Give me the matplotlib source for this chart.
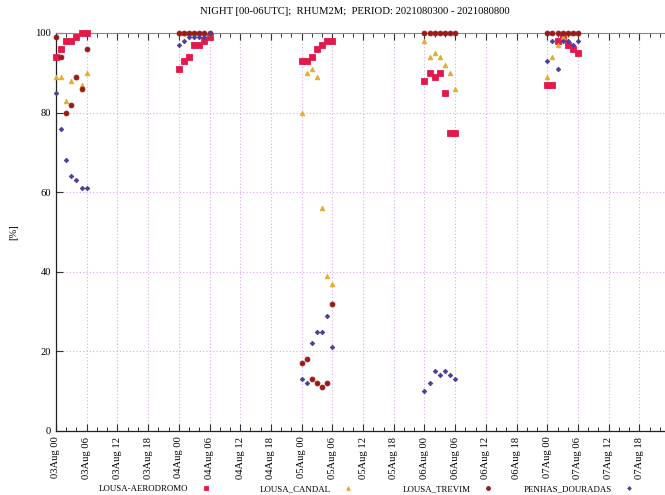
import numpy as np
import pandas as pd
import matplotlib
matplotlib.use('Agg')
import matplotlib.pyplot as plt
import matplotlib.dates as mdates

# nights 03..07 Aug 2021, hourly 00..06 UTC
days = ['2021-08-03', '2021-08-04', '2021-08-05', '2021-08-06', '2021-08-07']
hours = [0, 1, 2, 3, 4, 5, 6]

aerodromo = [94, 96, 98, 98, 99, 100, 100,
             91, 93, 94, 97, 97, 98, 99,
             93, 93, 94, 96, 97, 98, 98,
             88, 90, 89, 90, 85, 75, 75,
             87, 87, 98, 99, 97, 96, 95]
candal = [89, 89, 83, 88, 89, 87, 90,
          100, 100, 100, 100, 100, 100, 100,
          80, 90, 91, 89, 56, 39, 37,
          98, 94, 95, 94, 92, 90, 86,
          89, 94, 97, 99, 100, 100, 100]
trevim = [99, 94, 80, 82, 89, 86, 96,
          100, 100, 100, 100, 100, 100, 100,
          17, 18, 13, 12, 11, 12, 32,
          100, 100, 100, 100, 100, 100, 100,
          100, 100, 100, 100, 100, 100, 100]
penhas = [85, 76, 68, 64, 63, 61, 61,
          97, 98, 99, 99, 99, 99, 100,
          13, 12, 22, 25, 25, 29, 21,
          10, 12, 15, 14, 15, 14, 13,
          93, 98, 91, 98, 98, 97, 98]

names = ['LOUSA-AERODROMO', 'LOUSA_CANDAL', 'LOUSA_TREVIM', 'PENHAS_DOURADAS']

times = pd.to_datetime([f'{d} {h:02d}:00' for d in days for h in hours])

plt.rcParams['font.family'] = ['Liberation Serif', 'DejaVu Serif']
fs = 7.6

fig = plt.figure(figsize=(6.65, 4.95), dpi=100)
ax = fig.add_axes([56/665, 64/495, 609/665, 398/495])

styles = [
    dict(marker='s', color='#e3194b', ms=3.8),
    dict(marker='^', color='#e6aa2e', ms=3.3),
    dict(marker='o', color='#9a1a1a', ms=3.5),
    dict(marker='D', color='#4b3f9e', ms=2.3),
]
series = [aerodromo, candal, trevim, penhas]
handles = []
for vals, st in zip(series, styles):
    h, = ax.plot(times, vals, linestyle='none', marker=st['marker'],
                 color=st['color'], ms=st['ms'], mec=st['color'], mew=0.6,
                 clip_on=False, zorder=3)
    handles.append(h)

x0 = pd.Timestamp('2021-08-03 00:00')
ax.set_xlim(x0, x0 + pd.Timedelta(hours=119))
ax.set_ylim(0, 100)
ax.set_yticks(np.arange(0, 101, 20))

ax.xaxis.set_major_locator(mdates.HourLocator(byhour=[0, 6, 12, 18]))
ax.xaxis.set_minor_locator(mdates.HourLocator(byhour=range(0, 24, 2)))
ax.xaxis.set_major_formatter(mdates.DateFormatter('%d%b %H'))
plt.setp(ax.get_xticklabels(), rotation=90, ha='center', va='top')

ax.tick_params(axis='both', which='both', direction='in', top=True,
               labelsize=fs, color='#333333')
ax.tick_params(which='major', length=5, width=0.8)
ax.tick_params(which='minor', length=3, width=0.7)
ax.tick_params(axis='x', pad=4)

ax.grid(True, which='major', linestyle=(0, (1, 2)), color='#dca8ee', lw=0.8)
ax.spines['right'].set_visible(False)
ax.spines['top'].set_color('#888888')
for s in ['left', 'bottom']:
    ax.spines[s].set_color('#222222')
    ax.spines[s].set_linewidth(0.9)

ax.set_ylabel('[%]', fontsize=fs, labelpad=12)
fig.text(355/665, 1 - 11/495,
         'NIGHT [00-06UTC];  RHUM2M;  PERIOD: 2021080300 - 2021080800',
         ha='center', va='center', fontsize=7.7)

# gnuplot-like key: label followed by sample, spread across the bottom
marker_x = [205, 347, 487, 628]
for h, name, mx in zip(handles, names, marker_x):
    fig.legend(handles=[h], labels=[name], loc='center right',
               bbox_to_anchor=((mx + 5) / 665, 6 / 495), frameon=False,
               markerfirst=False, fontsize=6.4, handlelength=1.0,
               handletextpad=1.4, borderpad=0, borderaxespad=0,
               markerscale=0.8)

fig.savefig('out.png', dpi=100)
